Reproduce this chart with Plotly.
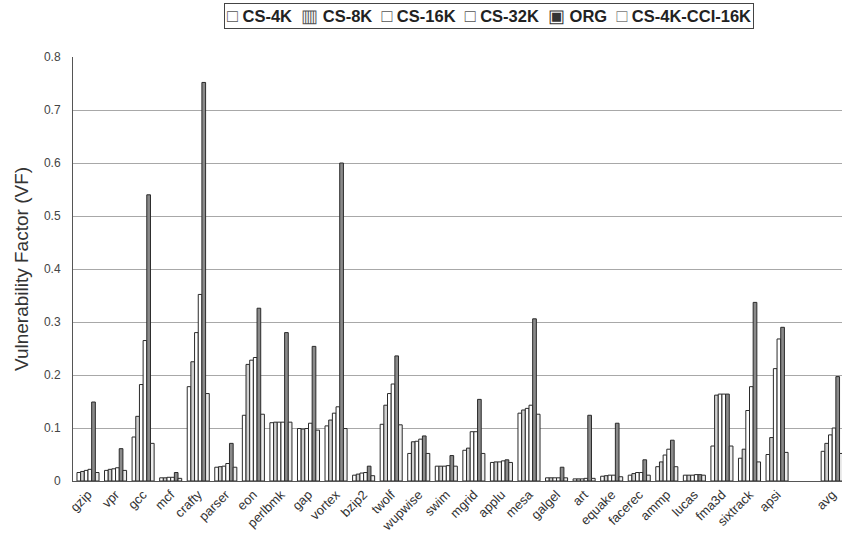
import plotly.graph_objects as go

categories = ["gzip", "vpr", "gcc", "mcf", "crafty", "parser", "eon", "perlbmk", "gap",
              "vortex", "bzip2", "twolf", "wupwise", "swim", "mgrid", "applu", "mesa",
              "galgel", "art", "equake", "facerec", "ammp", "lucas", "fma3d", "sixtrack",
              "apsi", " ", "avg"]
benchmarks = [c for c in categories if c.strip()]

series_names = ["CS-4K", "CS-8K", "CS-16K", "CS-32K", "ORG", "CS-4K-CCI-16K"]

cs_4k = [0.016, 0.020, 0.083, 0.006, 0.178, 0.026, 0.124, 0.110, 0.099, 0.104, 0.011, 0.107,
         0.052, 0.028, 0.058, 0.035, 0.128, 0.006, 0.004, 0.009, 0.011, 0.027, 0.011, 0.066,
         0.043, 0.050, 0.056]
cs_8k = [0.018, 0.022, 0.122, 0.006, 0.225, 0.027, 0.220, 0.111, 0.098, 0.115, 0.013, 0.143,
         0.074, 0.028, 0.062, 0.036, 0.134, 0.006, 0.004, 0.010, 0.014, 0.036, 0.011, 0.162,
         0.060, 0.082, 0.071]
cs_16k = [0.020, 0.023, 0.182, 0.007, 0.280, 0.028, 0.228, 0.111, 0.099, 0.128, 0.015, 0.165,
          0.075, 0.028, 0.093, 0.036, 0.137, 0.006, 0.004, 0.011, 0.016, 0.049, 0.011, 0.164,
          0.133, 0.212, 0.087]
cs_32k = [0.022, 0.025, 0.265, 0.007, 0.352, 0.033, 0.233, 0.111, 0.109, 0.140, 0.016, 0.183,
          0.079, 0.029, 0.093, 0.038, 0.143, 0.006, 0.005, 0.011, 0.016, 0.060, 0.012, 0.164,
          0.178, 0.268, 0.100]
org = [0.149, 0.061, 0.540, 0.016, 0.752, 0.071, 0.326, 0.280, 0.254, 0.600, 0.028, 0.236,
       0.085, 0.048, 0.154, 0.040, 0.306, 0.026, 0.124, 0.109, 0.040, 0.077, 0.012, 0.164,
       0.337, 0.290, 0.197]
cs_4k_cci_16k = [0.016, 0.020, 0.071, 0.005, 0.165, 0.026, 0.126, 0.111, 0.096, 0.099, 0.010,
                 0.106, 0.052, 0.028, 0.052, 0.035, 0.126, 0.006, 0.005, 0.008, 0.011, 0.027,
                 0.011, 0.066, 0.036, 0.054, 0.052]

series_values = [cs_4k, cs_8k, cs_16k, cs_32k, org, cs_4k_cci_16k]
fills = ["#ffffff", "#cfcfcf", "#ffffff", "#ffffff", "#8a8a8a", "#ececec"]
legend_glyphs = ["\u25a1", "\u25a5", "\u25a1", "\u25a1", "\u25a3", "\u25a1"]
legend_glyph_colors = ["#555555", "#555555", "#555555", "#555555", "#333333", "#777777"]

y_ticks = [0, 0.1, 0.2, 0.3, 0.4, 0.5, 0.6, 0.7, 0.8]
y_tick_labels = ["0", "0.1", "0.2", "0.3", "0.4", "0.5", "0.6", "0.7", "0.8"]

fig = go.Figure()
for name, vals, fc in zip(series_names, series_values, fills):
    fig.add_trace(go.Bar(
        name=name, x=benchmarks, y=vals,
        marker=dict(color=fc, line=dict(color="#2a2a2a", width=1)),
    ))

legend_text = "\u00a0\u00a0".join(
    f"<span style='color:{gc};font-size:18px;font-weight:normal'>{g}</span>\u00a0{n}"
    for g, gc, n in zip(legend_glyphs, legend_glyph_colors, series_names)
)
fig.add_annotation(
    text=legend_text, xref="paper", yref="paper", x=0.5416, y=1.097,
    xanchor="center", yanchor="middle", showarrow=False,
    font=dict(family="Liberation Sans, Arial, sans-serif", size=16.5, color="#222222",
              weight="bold"),
    bordercolor="#444444", borderwidth=1, borderpad=2, bgcolor="white",
)

fig.update_layout(
    width=842, height=544,
    margin=dict(l=73, r=0, t=57, b=63),
    paper_bgcolor="white", plot_bgcolor="white",
    barmode="group", bargap=0.2, bargroupgap=0,
    font=dict(family="Liberation Sans, Arial, sans-serif", color="#333333"),
    showlegend=False,
    xaxis=dict(
        type="category", categoryorder="array", categoryarray=categories,
        range=[-0.544, 27.356],
        tickangle=-45, tickfont=dict(size=13, color="#333333"),
        showline=True, linecolor="#555555", linewidth=1,
        showgrid=False, ticks="",
    ),
    yaxis=dict(
        range=[0, 0.8], tickvals=y_ticks, ticktext=y_tick_labels,
        tickfont=dict(size=12, color="#444444"),
        showgrid=True, gridcolor="#a8a8a8", gridwidth=1,
        showline=True, linecolor="#555555", linewidth=1,
        zeroline=False, ticks="", ticklabelstandoff=9,
        title=dict(text="Vulnerability Factor (VF)", font=dict(size=19, color="#333333"),
                   standoff=10),
    ),
)

fig.write_html("out.html")
